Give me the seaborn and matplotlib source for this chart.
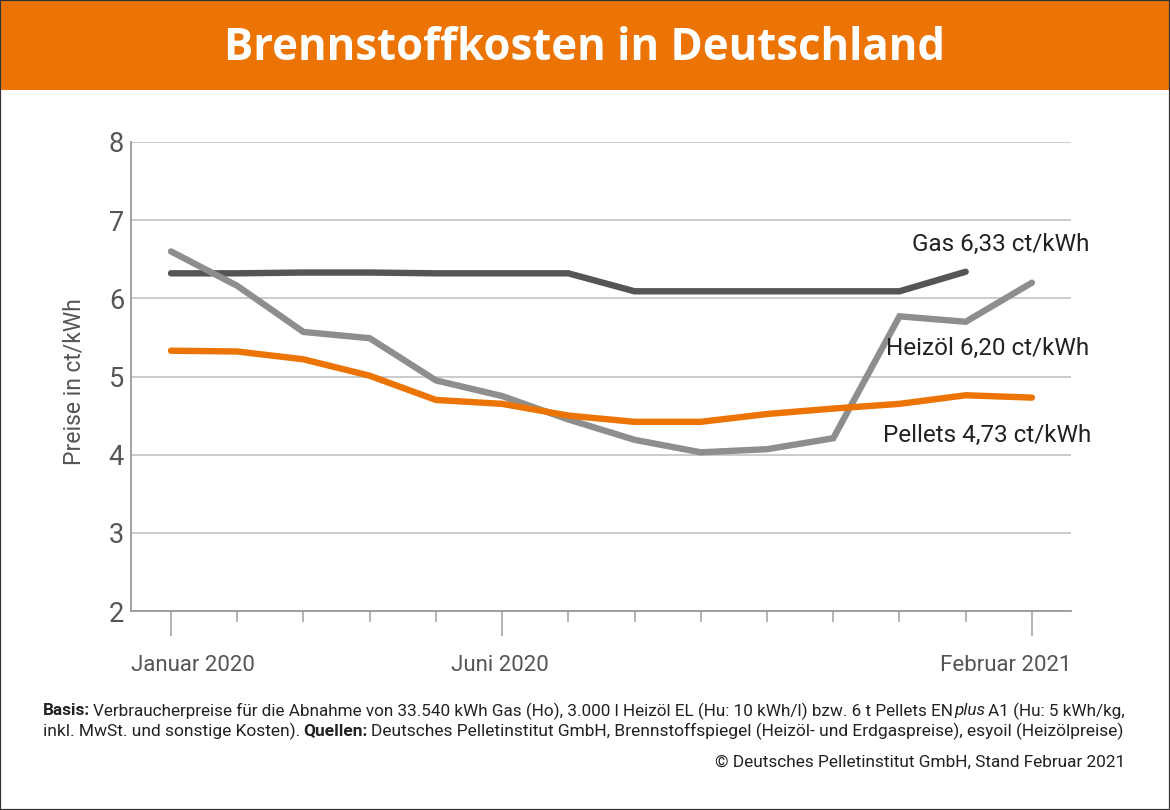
import numpy as np, pandas as pd, matplotlib
matplotlib.use("Agg")
import matplotlib.pyplot as plt
import seaborn as sns
from matplotlib.patches import Rectangle

months = list(range(14))
gas = [6.32,6.32,6.33,6.33,6.32,6.32,6.32,6.09,6.09,6.09,6.09,6.09,6.34,None]
heizoel = [6.60,6.16,5.57,5.49,4.95,4.75,4.45,4.19,4.03,4.07,4.21,5.77,5.70,6.20]
pellets = [5.33,5.32,5.22,5.01,4.70,4.65,4.50,4.42,4.42,4.52,4.59,4.65,4.76,4.73]
major_ticks = [0,5,13]
major_labels = ["Januar 2020","Juni 2020","Februar 2021"]
yticks = [2,3,4,5,6,7,8]

sns.set_theme(style="white")
plt.rcParams['font.family'] = ['Roboto','DejaVu Sans']
W,H = 1170,810
fig = plt.figure(figsize=(W/100,H/100),dpi=100,facecolor='white')
ax = fig.add_axes([131/W,1-611/H,940/W,469/H])

df = pd.DataFrame({'m':months,'Gas':gas,'Heizöl':heizoel,'Pellets':pellets}).melt('m',var_name='s',value_name='v')
sns.lineplot(data=df,x='m',y='v',hue='s',palette={'Gas':'#555555','Heizöl':'#8e8e8e','Pellets':'#ec7405'},
             hue_order=['Gas','Heizöl','Pellets'],linewidth=4.6,legend=False,ax=ax,
             solid_capstyle='round',solid_joinstyle='miter',errorbar=None,estimator=None,sort=False)
ax.set_xlim(-0.604,13.59); ax.set_ylim(2,8)
ax.set_xlabel(''); ax.set_ylabel('')
ax.set_yticks(yticks); ax.set_yticklabels([str(y) for y in yticks],fontsize=19.5,color='#555555')
ax.tick_params(axis='y',length=0,pad=5)
ax.yaxis.grid(True,color='#bdbdbd',lw=1.1); ax.set_axisbelow(True)
ax.set_xticks(months,minor=True)
ax.set_xticks(major_ticks); ax.set_xticklabels([])
ax.tick_params(axis='x',which='major',length=18,width=1.1,color='#a0a0a0',bottom=True)
ax.tick_params(axis='x',which='minor',length=8,width=1.1,color='#a0a0a0',bottom=True)
for s in ['top','right']: ax.spines[s].set_visible(False)
for s in ['left','bottom']:
    ax.spines[s].set_color('#999999'); ax.spines[s].set_linewidth(1.3)

def T(x,y,s,**k):
    k.setdefault('va','center_baseline')
    return fig.text(x/W,1-y/H,s,**k)

def chain(x,y,parts,fs,color):
    """Place consecutive text runs on one line, each after the previous run's extent."""
    r = fig.canvas.get_renderer()
    for s,gap,kw in parts:
        t = T(x,y,s,ha='left',fontsize=fs,color=color,**kw)
        x = t.get_window_extent(r).x1 + gap

fig.add_artist(Rectangle((0,1-90/H),1,90/H,transform=fig.transFigure,color='#ec7405',lw=0,zorder=0))
fig.add_artist(Rectangle((0,0),1,1,transform=fig.transFigure,fill=False,ec='#333333',lw=1.6,zorder=5))
T(584,43,"Brennstoffkosten in Deutschland",ha='center',fontsize=31.5,fontweight='bold',color='white',family=['Open Sans','DejaVu Sans'])
lab='#555555'
T(71,382,"Preise in ct/kWh",rotation=90,ha='center',fontsize=16.5,color=lab,rotation_mode='anchor')
T(131,663,major_labels[0],ha='left',fontsize=16,color=lab)
T(500,663,major_labels[1],ha='center',fontsize=16,color=lab)
T(1071,663,major_labels[2],ha='right',fontsize=16,color=lab)
T(1089,242,"Gas 6,33 ct/kWh",ha='right',fontsize=17.5,color='#222222')
T(1089,346,"Heizöl 6,20 ct/kWh",ha='right',fontsize=17.5,color='#222222')
T(1091,433,"Pellets 4,73 ct/kWh",ha='right',fontsize=17.5,color='#222222')

c='#222222'; fs=12.4
chain(43,709,[("Basis:",3.2,dict(fontweight='bold')),
  ("Verbraucherpreise für die Abnahme von 33.540 kWh Gas (Ho), 3.000 l Heizöl EL (Hu: 10 kWh/l) bzw. 6 t Pellets EN",1,{}),
  ("plus",2,dict(style='italic')),("A1 (Hu: 5 kWh/kg,",0,{})],12.3,c)
chain(43,729,[("inkl. MwSt. und sonstige Kosten).",3.2,{}),("Quellen:",3.2,dict(fontweight='bold')),
  ("Deutsches Pelletinstitut GmbH, Brennstoffspiegel (Heizöl- und Erdgaspreise), esyoil (Heizölpreise)",0,{})],12.5,c)
T(1125,761,"© Deutsches Pelletinstitut GmbH, Stand Februar 2021",ha='right',fontsize=fs,color=c)
fig.savefig('out.png',dpi=100)
